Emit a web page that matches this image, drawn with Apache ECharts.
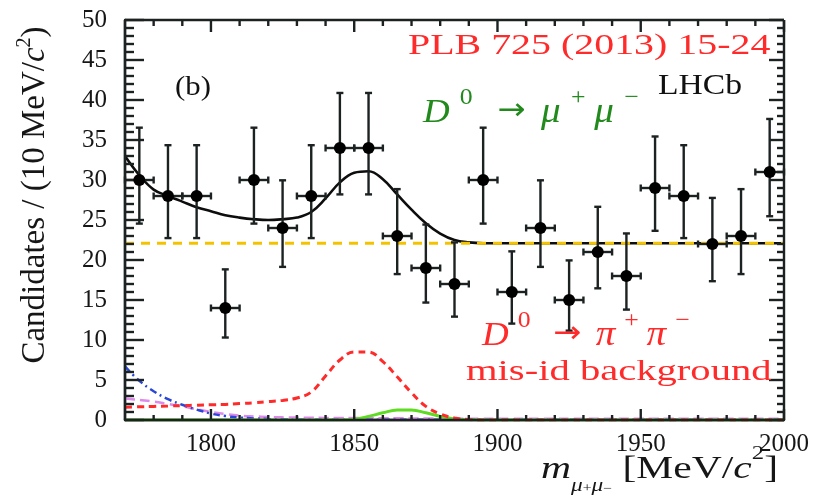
<!DOCTYPE html>
<html><head><meta charset="utf-8">
<script src="https://cdn.jsdelivr.net/npm/echarts@6/dist/echarts.min.js"></script>
<style>html,body{margin:0;padding:0;background:#fff}#c{width:817px;height:496px}</style>
</head><body><div id="c"></div>
<script>
// ---- data ----
const xRange = [1770, 2000];
const yRange = [0, 50];
const binWidth = 10;
const binCenters = [1775,1785,1795,1805,1815,1825,1835,1845,1855,1865,1875,1885,1895,1905,1915,1925,1935,1945,1955,1965,1975,1985,1995];
const counts     = [30,28,28,14,30,24,28,34,34,23,19,17,30,16,24,15,21,18,29,28,22,23,31];
const errLow     = [24.55,22.74,22.74,10.31,24.55,19.14,22.74,28.2,28.2,18.24,14.68,12.92,24.55,12.05,19.14,11.17,16.46,13.8,23.65,22.74,17.35,18.24,25.47];
const errHigh    = [36.54,34.35,34.35,18.83,36.54,29.96,34.35,40.88,40.88,28.86,24.43,22.2,36.54,21.08,29.96,19.95,26.65,23.32,35.44,34.35,27.76,28.86,37.63];

const curveX = [1770,1775,1780,1785,1790,1795,1800,1805,1810,1815,1820,1825,1830,1835,1840,1845,1850,1855,1860,1865,1870,1875,1880,1885,1890,1895,1900,1905,1910,1915,1920,1925,1930,1935,1940,1945,1950,1955,1960,1965,1970,1975,1980,1985,1990,1995,2000];
const totalFit = [33.0,30.6,28.8,28.0,27.3,26.6,26.1,25.6,25.3,25.1,25.0,25.1,25.3,26.0,27.7,29.7,30.9,31.1,30.1,28.2,26.3,24.6,23.3,22.5,22.2,22.1,22.1,22.1,22.1,22.1,22.1,22.1,22.1,22.1,22.1,22.1,22.1,22.1,22.1,22.1,22.1,22.1,22.1,22.1,22.1,22.1,22.1];
const misIdBkg = [1.6,1.65,1.7,1.75,1.8,1.85,1.9,1.95,2.05,2.15,2.3,2.45,2.75,3.5,5.5,7.5,8.5,8.5,7.3,5.4,3.4,1.7,0.75,0.25,0.05,0,0,0,0,0,0,0,0,0,0,0,0,0,0,0,0,0,0,0,0,0,0];
const signal   = [0,0,0,0,0,0,0,0,0,0,0,0,0,0,0,0,0.1,0.45,0.9,1.25,1.25,0.9,0.45,0.12,0.02,0,0,0,0,0,0,0,0,0,0,0,0,0,0,0,0,0,0,0,0,0,0];
const bkgBlue  = [6.7,4.9,3.6,2.6,1.9,1.3,0.8,0.5,0.3,0.2,0.12,0.08,0.05,0.03,0.03,0.03,0.03,0.03,0.03,0.03,0.03,0.03,0.03,0.03,0.03,0.03,0.03,0.03,0.03,0.03,0.03,0.03,0.03,0.03,0.03,0.03,0.03,0.03,0.03,0.03,0.03,0.03,0.03,0.03,0.03,0.03,0.03];
const bkgPink  = [2.7,2.5,2.3,2.0,1.7,1.35,1.0,0.75,0.55,0.45,0.38,0.33,0.3,0.28,0.26,0.25,0.24,0.23,0.22,0.21,0.2,0.19,0.18,0.17,0.17,0.16,0.15,0.15,0.15,0.15,0.15,0.15,0.15,0.15,0.15,0.15,0.15,0.15,0.15,0.15,0.15,0.15,0.15,0.15,0.15,0.15,0.15];
const combX = [1770, 2000];
const combY = [22.1, 22.1];

const xMajorTicks = [1800,1850,1900,1950,2000];
const xMinorTicks = [1780,1790,1810,1820,1830,1840,1860,1870,1880,1890,1910,1920,1930,1940,1960,1970,1980,1990];
const yMajorTicks = [0,5,10,15,20,25,30,35,40,45,50];
const yMinorTicks = [1,2,3,4,6,7,8,9,11,12,13,14,16,17,18,19,21,22,23,24,26,27,28,29,31,32,33,34,36,37,38,39,41,42,43,44,46,47,48,49];

// ---- chart ----
const pairs = (xs, ys) => xs.map((x, i) => [x, ys[i]]);
const serif = 'Liberation Serif';
const ink = '#161616';

// frame + inward ticks on all four sides, placed through the axis scales
function frameChildren(api, st) {
  const lo = api.coord([xRange[0], yRange[0]]), hi = api.coord([xRange[1], yRange[1]]);
  const x0 = lo[0], y0 = lo[1], x1 = hi[0], y1 = hi[1];
  const ch = [];
  const ln = (a, b, c, d) => ch.push({ type: 'line', shape: { x1: a, y1: b, x2: c, y2: d }, style: st });
  ln(x0, y0, x1, y0); ln(x0, y1, x1, y1); ln(x0, y0, x0, y1); ln(x1, y0, x1, y1);
  xMajorTicks.forEach(v => { const p = api.coord([v, yRange[0]])[0]; ln(p, y0, p, y0 - 11); ln(p, y1, p, y1 + 12); });
  xMinorTicks.forEach(v => { const p = api.coord([v, yRange[0]])[0]; ln(p, y0, p, y0 - 5); ln(p, y1, p, y1 + 6); });
  yMajorTicks.forEach(v => { const p = api.coord([xRange[0], v])[1]; ln(x0, p, x0 + 19, p); ln(x1, p, x1 - 15, p); });
  yMinorTicks.forEach(v => { const p = api.coord([xRange[0], v])[1]; ln(x0, p, x0 + 9, p); ln(x1, p, x1 - 7, p); });
  return ch;
}

function renderPoint(params, api) {
  const x = api.value(0), y = api.value(1), lo = api.value(2), hi = api.value(3);
  const c = api.coord([x, y]);
  const t = api.coord([x, hi]), b = api.coord([x, lo]);
  const l = api.coord([x - binWidth / 2, y]), r = api.coord([x + binWidth / 2, y]);
  const cap = 3.5;
  const st = { stroke: '#1c2222', lineWidth: 2.4 };
  const children = [
    { type: 'line', shape: { x1: c[0], y1: t[1], x2: c[0], y2: b[1] }, style: st },
    { type: 'line', shape: { x1: c[0] - cap, y1: t[1], x2: c[0] + cap, y2: t[1] }, style: st },
    { type: 'line', shape: { x1: c[0] - cap, y1: b[1], x2: c[0] + cap, y2: b[1] }, style: st },
    { type: 'line', shape: { x1: l[0], y1: c[1], x2: r[0], y2: c[1] }, style: st },
    { type: 'line', shape: { x1: l[0], y1: c[1] - cap, x2: l[0], y2: c[1] + cap }, style: st },
    { type: 'line', shape: { x1: r[0], y1: c[1] - cap, x2: r[0], y2: c[1] + cap }, style: st },
    { type: 'circle', shape: { cx: c[0], cy: c[1], r: 6 }, style: { fill: '#000' } }
  ];
  const extra = params.dataIndexInside === 0 ? frameChildren(api, st) : [];
  return { type: 'group', children: extra.concat(children) };
}

const lineBase = { type: 'line', showSymbol: false, symbol: 'none', smooth: 0.4, animation: false, silent: true };
const plainNum = v => String(v);

function muText(sym, color, supPad, arrPad) {
  return { text: '{D|D}{sup|0}{a|→}{m|' + sym + '}{sup|+}{m|' + sym + '}{sup|−}', fill: color, align: 'left', verticalAlign: 'middle',
    rich: {
      D: { fontFamily: serif, fontStyle: 'italic', fontSize: 33, fill: color, lineHeight: 44, verticalAlign: 'bottom' },
      m: { fontFamily: serif, fontStyle: 'italic', fontSize: 35, fill: color, lineHeight: 44, verticalAlign: 'bottom' },
      a: { fontFamily: 'DejaVu Sans', fontSize: 30, fill: color, lineHeight: 44, verticalAlign: 'bottom', padding: [0, arrPad, 4, arrPad] },
      sup: { fontFamily: serif, fontSize: 23, fill: color, lineHeight: 22, verticalAlign: 'top', padding: [0, supPad, 0, supPad + 1] }
    } };
}

const option = {
  animation: false,
  grid: { left: 125, right: 33, top: 20, bottom: 76, outerBoundsMode: 'none' },
  xAxis: { type: 'value', min: xRange[0], max: xRange[1], position: 'bottom',
    axisLine: { show: true, onZero: false, lineStyle: { color: '#1c2222', width: 2.4 } },
    axisTick: { show: false },
    axisLabel: { show: true, customValues: xMajorTicks, formatter: plainNum, margin: 12, fontFamily: serif, fontSize: 25, color: ink },
    splitLine: { show: false } },
  yAxis: { type: 'value', min: yRange[0], max: yRange[1], interval: 5, position: 'left',
    axisLine: { show: true, onZero: false, lineStyle: { color: '#1c2222', width: 2.4 } },
    axisTick: { show: false },
    axisLabel: { margin: 18, fontFamily: serif, fontSize: 25, color: ink },
    splitLine: { show: false },
    name: '{a|Candidates / (10 MeV/}{i|c}{s|2}{a|)}',
    nameLocation: 'middle', nameGap: 70,
    nameTextStyle: { padding: [0, 0, 0, 50], fontFamily: serif, fontSize: 33, color: ink,
      rich: {
        a: { fontFamily: serif, fontSize: 33, color: ink, lineHeight: 40, verticalAlign: 'middle' },
        i: { fontFamily: serif, fontStyle: 'italic', fontSize: 33, color: ink, lineHeight: 40, verticalAlign: 'middle' },
        s: { fontFamily: serif, fontSize: 20, color: ink, lineHeight: 40, verticalAlign: 'top' }
      } } },
  series: [
    Object.assign({}, lineBase, { name: 'pink', data: pairs(curveX, bkgPink), z: 2,
      lineStyle: { color: '#dd8ae8', width: 2.5, type: [10, 5] } }),
    Object.assign({}, lineBase, { name: 'blue', data: pairs(curveX, bkgBlue), z: 3,
      lineStyle: { color: '#2946d8', width: 2.5, type: [7, 4, 2, 4] } }),
    Object.assign({}, lineBase, { name: 'signal', data: pairs(curveX, signal), z: 3,
      lineStyle: { color: '#5ddc22', width: 3 } }),
    Object.assign({}, lineBase, { name: 'misid', data: pairs(curveX, misIdBkg), z: 4,
      lineStyle: { color: '#ff2a2a', width: 3, type: [7, 5] } }),
    Object.assign({}, lineBase, { name: 'total', data: pairs(curveX, totalFit), z: 5,
      lineStyle: { color: '#0d0d0d', width: 2.6 } }),
    Object.assign({}, lineBase, { name: 'comb', smooth: false, data: pairs(combX, combY), z: 6,
      lineStyle: { color: '#f3c300', width: 3, type: [9, 7] } }),
    { type: 'custom', name: 'data', z: 10, clip: false, renderItem: renderPoint,
      data: binCenters.map((x, i) => [x, counts[i], errLow[i], errHigh[i]]), animation: false }
  ],
  graphic: { elements: [
    { type: 'text', z: 100, x: 408, y: 46, scaleX: 1.33, silent: true,
      style: { text: 'PLB 725 (2013) 15-24', fill: '#ff2a2a', font: '30px "Liberation Serif"', align: 'left', verticalAlign: 'middle' } },
    { type: 'text', z: 100, x: 658, y: 86, scaleX: 1.12, silent: true,
      style: { text: 'LHCb', fill: '#111', font: '30px "Liberation Serif"', align: 'left', verticalAlign: 'middle' } },
    { type: 'text', z: 100, x: 175, y: 88, scaleX: 1.1, silent: true,
      style: { text: '(b)', fill: '#111', font: '28px "Liberation Serif"', align: 'left', verticalAlign: 'middle' } },
    { type: 'text', z: 100, x: 423, y: 108, scaleX: 1.12, silent: true, style: muText('μ', '#228a1c', 8, 14) },
    { type: 'text', z: 100, x: 482, y: 331, scaleX: 1.12, silent: true, style: muText('π', '#ff2a2a', 7, 13) },
    { type: 'text', z: 100, x: 466, y: 372, scaleX: 1.4, silent: true,
      style: { text: 'mis-id background', fill: '#ff2a2a', font: '29px "Liberation Serif"', align: 'left', verticalAlign: 'middle' } },
    { type: 'text', z: 100, x: 778, y: 470, scaleX: 1.3, silent: true,
      style: { text: '{m|m}{sub|μ}{subsup|+}{sub|μ}{subsup|−}{a| [MeV/}{i|c}{s|2}{a|]}', fill: ink, align: 'right', verticalAlign: 'middle',
        rich: {
          m: { fontFamily: serif, fontStyle: 'italic', fontSize: 32, fill: ink, lineHeight: 40, verticalAlign: 'middle' },
          sub: { fontFamily: serif, fontStyle: 'italic', fontSize: 18, fill: ink, lineHeight: 40, verticalAlign: 'bottom' },
          subsup: { fontFamily: serif, fontSize: 12, fill: ink, lineHeight: 50, verticalAlign: 'bottom' },
          a: { fontFamily: serif, fontSize: 32, fill: ink, lineHeight: 40, verticalAlign: 'middle' },
          i: { fontFamily: serif, fontStyle: 'italic', fontSize: 32, fill: ink, lineHeight: 40, verticalAlign: 'middle' },
          s: { fontFamily: serif, fontSize: 19, fill: ink, lineHeight: 40, verticalAlign: 'top' }
        } } }
  ] }
};

const chart = echarts.init(document.getElementById('c'), null, { renderer: 'canvas' });
chart.setOption(option);
</script>
</body></html>
